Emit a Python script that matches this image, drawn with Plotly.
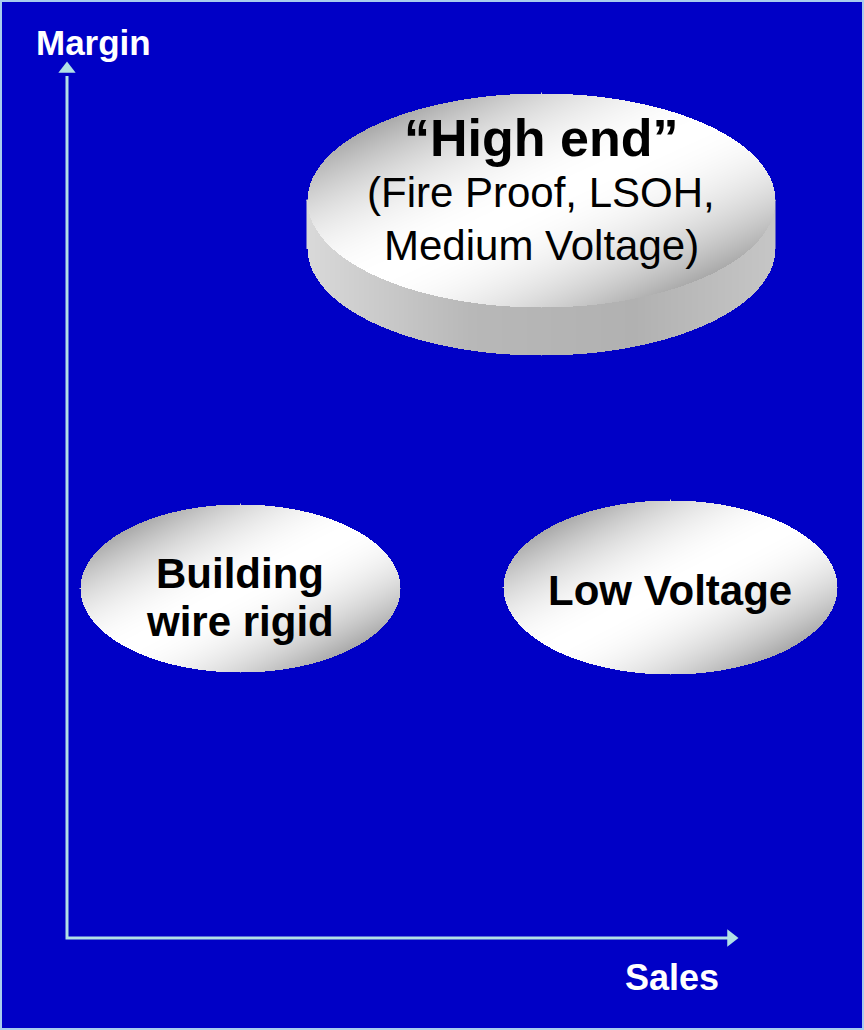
"""
Sales / margin positioning map of cable segments, drawn with Plotly.
"""

import numpy as np
import plotly.graph_objects as go

# segment positions on the map (x = sales, y = margin, origin at the axis corner)
segments = ["High end", "Building wire rigid", "Low Voltage"]
sales = [474, 173, 603]
margin = [738, 350, 351]

# text written on each bubble, line by line
label_lines = [
    ["<b>“High end”</b>", "(Fire Proof, LSOH,", "Medium Voltage)"],
    ["<b>Building</b>", "<b>wire rigid</b>"],
    ["<b>Low Voltage</b>"],
]

axis_titles = ["Margin", "Sales"]

# --- styling -------------------------------------------------------------
BG = "#0000C6"
AXIS_COLOR = "#B0E0E6"
BORDER_COLOR = "#A8CCEE"
FONT = "Arial, Liberation Sans, sans-serif"
GRAY_SCALE = [[0, "rgb(160,160,160)"], [1, "rgb(255,255,255)"]]

bubble_radii = [(234, 107), (160, 84), (167, 87)]
disc_depth = [48, 0, 0]
# vertical offset and size of each text line, relative to bubble centre
line_offsets = [[62, 8, -45], [15, -33], [-3]]
line_sizes = [[52, 42, 42], [42, 42], [42]]

X_RANGE = [-67, 797]
Y_RANGE = [-92, 938]


def bubble_face(cx, cy, rx, ry):
    """Elliptical face with a diagonal silver sheen (heatmap, NaN outside)."""
    xs = np.arange(cx - rx, cx + rx + 1, 1.0)
    ys = np.arange(cy - ry, cy + ry + 1, 1.0)
    X, Y = np.meshgrid(xs, ys)
    u = (X - cx) / rx
    v = (Y - cy) / ry
    inside = u**2 + v**2 <= 1
    # sheen band runs lower-left -> upper-right, grey towards the other two sides
    s = np.clip(np.abs(u - v) / np.sqrt(2) * 0.95, 0, 1)
    z = np.where(inside, 1 - s**2.0, np.nan)
    return go.Heatmap(
        x=xs, y=ys, z=z, colorscale=GRAY_SCALE, zmin=0, zmax=1,
        showscale=False, hoverinfo="skip",
    )


def bubble_side(cx, cy, rx, ry, depth):
    """Rim of a disc: the band below the top face."""
    xs = np.arange(cx - rx, cx + rx + 1, 1.0)
    ys = np.arange(cy - ry - depth, cy + 1, 1.0)
    X, Y = np.meshgrid(xs, ys)
    u = (X - cx) / rx
    v = (Y - (cy - depth)) / ry
    inside = (u**2 + v**2 <= 1) | ((np.abs(u) <= 1) & (Y >= cy - depth))
    shade = np.interp(u, [-1, -0.3, 0.4, 1], [0.6, 0.25, 0.18, 0.4])
    z = np.where(inside, shade, np.nan)
    return go.Heatmap(
        x=xs, y=ys, z=z, colorscale=GRAY_SCALE, zmin=0, zmax=1,
        showscale=False, hoverinfo="skip",
    )


fig = go.Figure()

for i, name in enumerate(segments):
    rx, ry = bubble_radii[i]
    if disc_depth[i]:
        fig.add_trace(bubble_side(sales[i], margin[i], rx, ry, disc_depth[i]))
    fig.add_trace(bubble_face(sales[i], margin[i], rx, ry))
    for line, dy, size in zip(label_lines[i], line_offsets[i], line_sizes[i]):
        fig.add_annotation(
            x=sales[i], y=margin[i] + dy, text=line, showarrow=False,
            xanchor="center", yanchor="middle",
            font=dict(family=FONT, size=size, color="black"),
        )

# axes drawn as arrows
fig.add_trace(go.Scatter(
    x=[0, 0, 662], y=[862, 0, 0], mode="lines",
    line=dict(color=AXIS_COLOR, width=3), hoverinfo="skip",
))
fig.add_trace(go.Scatter(
    x=[0], y=[869], mode="markers", hoverinfo="skip",
    marker=dict(symbol="triangle-up", size=15, color=AXIS_COLOR),
))
fig.add_trace(go.Scatter(
    x=[664], y=[0], mode="markers", hoverinfo="skip",
    marker=dict(symbol="triangle-right", size=15, color=AXIS_COLOR),
))

fig.add_annotation(
    x=26, y=896, text=f"<b>{axis_titles[0]}</b>", showarrow=False,
    font=dict(family=FONT, size=35, color="white"),
)
fig.add_annotation(
    x=605, y=-39, text=f"<b>{axis_titles[1]}</b>", showarrow=False,
    font=dict(family=FONT, size=36, color="white"),
)

fig.add_shape(
    type="rect", xref="paper", yref="paper", x0=0, y0=0, x1=1, y1=1,
    line=dict(color=BORDER_COLOR, width=4),
)

fig.update_layout(
    width=864,
    height=1030,
    margin=dict(l=0, r=0, t=0, b=0),
    paper_bgcolor=BG,
    plot_bgcolor=BG,
    showlegend=False,
)
fig.update_xaxes(range=X_RANGE, visible=False, fixedrange=True)
fig.update_yaxes(range=Y_RANGE, visible=False, fixedrange=True)

# drop the browser's default body margin so the figure fills the window
fig.write_html(
    "out.html",
    config={"displayModeBar": False},
    post_script="document.body.style.margin='0';",
)
